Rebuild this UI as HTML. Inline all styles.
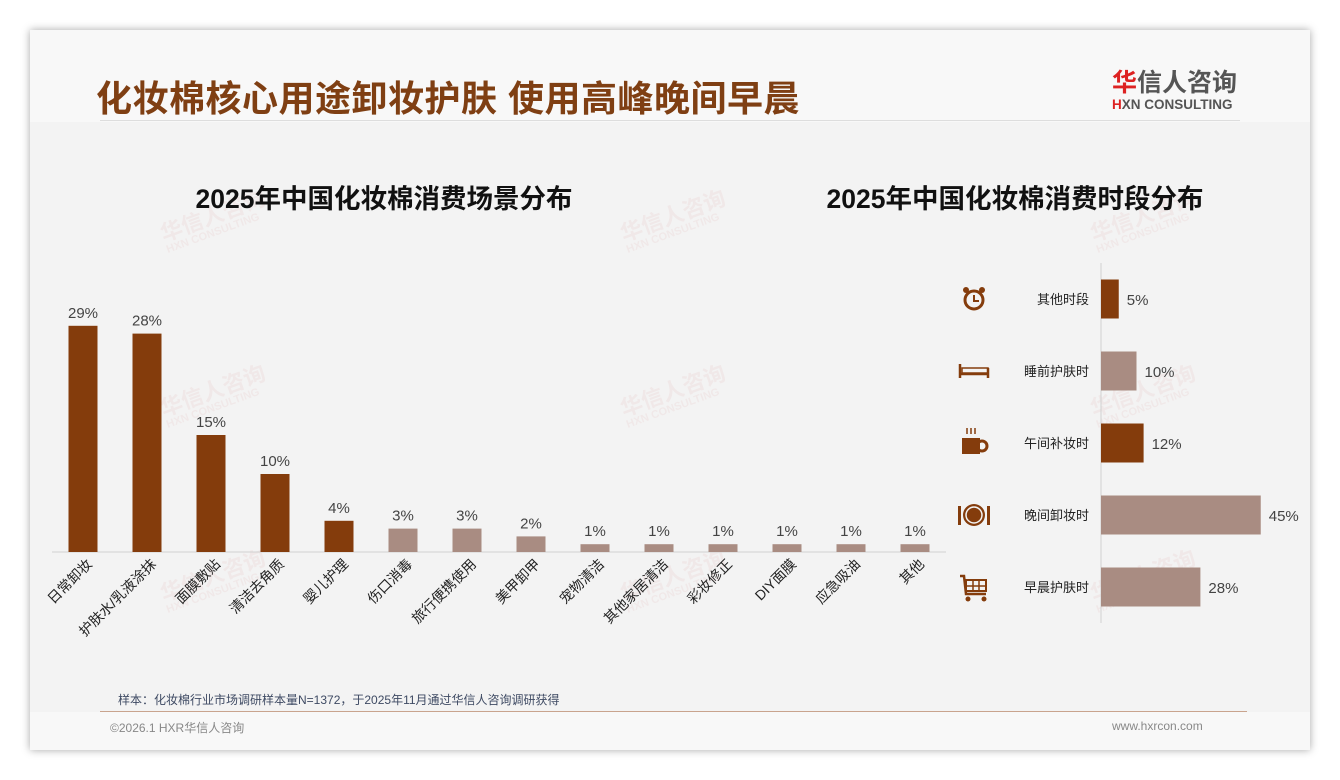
<!DOCTYPE html>
<html><head><meta charset="utf-8"><style>
body{margin:0;width:1340px;height:780px;background:#fff;font-family:"Liberation Sans","Noto Sans CJK SC",sans-serif;overflow:hidden}
#card{position:absolute;left:30px;top:30px;width:1280px;height:720px;background:#f3f3f3;box-shadow:0 0 8px rgba(0,0,0,.35)}
.abs{position:absolute}
.wm{position:absolute;color:rgba(200,60,60,.06);font-weight:bold;font-size:22px;transform:rotate(-20deg);line-height:1}
.wm small{display:block;font-size:11px}
</style></head><body>
<div id="card">
 <div class="abs" style="left:0;top:0;width:1280px;height:92px;background:#f8f8f8"></div>
 <div class="abs" style="left:66px;top:40px;font-size:36px;font-weight:bold;color:#7f3f13;letter-spacing:0.5px">化妆棉核心用途卸妆护肤 使用高峰晚间早晨</div>
 <div class="abs" style="left:1082px;top:33px;text-align:left">
  <div style="font-size:25px;font-weight:bold;color:#555"><span style="color:#d22">华</span>信人咨询</div>
  <div style="font-size:13.5px;font-weight:bold;color:#555;margin-top:-2px"><span style="color:#d22">H</span>XN CONSULTING</div>
 </div>
 <div class="abs" style="left:70px;top:90px;width:1140px;height:1px;background:#ddd"></div>
 <div class="abs" style="left:0;top:682px;width:1280px;height:38px;background:#f8f8f8"></div>
 <div class="abs" style="left:70px;top:681px;width:1147px;height:1px;background:#c9a48e"></div>
 <div class="abs" style="left:88px;top:661px;font-size:12px;color:#3e4a63">样本：化妆棉行业市场调研样本量N=1372，于2025年11月通过华信人咨询调研获得</div>
 <div class="abs" style="left:80px;top:689px;font-size:12px;color:#888">©2026.1 HXR华信人咨询</div>
 <div class="abs" style="left:1082px;top:689px;font-size:12px;color:#888">www.hxrcon.com</div>
</div>
<div id="wms"></div>
<div class="abs" style="left:84px;top:177px;width:600px;text-align:center;font-size:26.5px;font-weight:bold;color:#111">2025年中国化妆棉消费场景分布</div>
<div class="abs" style="left:715px;top:177px;width:600px;text-align:center;font-size:26.5px;font-weight:bold;color:#111">2025年中国化妆棉消费时段分布</div>
<svg class="abs" style="left:0;top:0" width="1340" height="780" id="chart"></svg>
<script>
const scenes=["日常卸妆","护肤水/乳液涂抹","面膜敷贴","清洁去角质","婴儿护理","伤口消毒","旅行便携使用","美甲卸甲","宠物清洁","其他家居清洁","彩妆修正","DIY面膜","应急吸油","其他"];
const sceneVals=[29,28,15,10,4,3,3,2,1,1,1,1,1,1];
const sceneDark=[1,1,1,1,1,0,0,0,0,0,0,0,0,0];
const periods=["其他时段","睡前护肤时","午间补妆时","晚间卸妆时","早晨护肤时"];
const periodVals=[5,10,12,45,28];
const periodDark=[1,0,1,0,0];
const DARK="#843c0c",LIGHT="#a98c82";
const svg=document.getElementById('chart');const NS="http://www.w3.org/2000/svg";
function mk(t,a,p){const e=document.createElementNS(NS,t);for(const k in a)e.setAttribute(k,a[k]);(p||svg).appendChild(e);return e;}
const wmPos=[[160,225],[620,225],[1090,225],[160,400],[620,400],[1090,400],[160,585],[620,585],[1090,585]];
const wd=document.getElementById('wms');
wmPos.forEach(p=>{const d=document.createElement('div');d.className='wm';d.style.left=p[0]+'px';d.style.top=(p[1]-20)+'px';d.innerHTML='华信人咨询<small>HXN CONSULTING</small>';


wd.appendChild(d);});
const baseY=552,x0=51,step=64,bw=29,pxPer=7.8;
const xS=i=>x0+step*i+step/2, yS=v=>baseY-v*pxPer;
const ax=mk('line',{x1:52,x2:946,y1:baseY,y2:baseY,stroke:"#d0d0d0"});


sceneVals.forEach((v,i)=>{
 const r=mk('rect',{x:xS(i)-bw/2,y:yS(v),width:bw,height:v*pxPer,fill:sceneDark[i]?DARK:LIGHT});
 
 
 const t=mk('text',{x:xS(i),y:yS(v)-8,"text-anchor":"middle","font-size":15,fill:"#444"});t.textContent=v+'%';
 
 
 const lx=xS(i)+10,ly=baseY+13;
 const l=mk('text',{x:lx,y:ly,"text-anchor":"end","font-size":14,fill:"#222",transform:`rotate(-45 ${lx} ${ly})`});l.textContent=scenes[i];
 
 
});
const ax2=1101,rowTop=263,rowH=72,bh=39,pp=3.55;
const ya=mk('line',{x1:ax2,x2:ax2,y1:rowTop,y2:rowTop+rowH*5,stroke:"#d0d0d0"});


const icons=[
 c=>`<circle cx="${c[0]}" cy="${c[1]+1}" r="9" fill="none" stroke="${DARK}" stroke-width="3"/><path d="M${c[0]} ${c[1]-4}V${c[1]+2}H${c[0]+5}" stroke="${DARK}" stroke-width="2" fill="none"/><circle cx="${c[0]-8}" cy="${c[1]-9}" r="3" fill="${DARK}"/><circle cx="${c[0]+8}" cy="${c[1]-9}" r="3" fill="${DARK}"/>`,
 c=>`<path d="M${c[0]-14} ${c[1]-7}V${c[1]+7}M${c[0]+14} ${c[1]-3}V${c[1]+7}M${c[0]-14} ${c[1]+3}H${c[0]+14}" stroke="${DARK}" stroke-width="2.5" fill="none"/><rect x="${c[0]-12}" y="${c[1]-3}" width="26" height="5" fill="none" stroke="${DARK}" stroke-width="1.5"/>`,
 c=>`<rect x="${c[0]-12}" y="${c[1]-5}" width="18" height="16" fill="${DARK}"/><circle cx="${c[0]+8}" cy="${c[1]+3}" r="5" fill="none" stroke="${DARK}" stroke-width="3"/><path d="M${c[0]-7} ${c[1]-15}v6M${c[0]-3} ${c[1]-15}v6M${c[0]+1} ${c[1]-15}v6" stroke="${DARK}" stroke-width="1.5"/>`,
 c=>`<circle cx="${c[0]}" cy="${c[1]}" r="11" fill="${DARK}"/><circle cx="${c[0]}" cy="${c[1]}" r="8" fill="none" stroke="#f3f3f3" stroke-width="1.5"/><rect x="${c[0]-16}" y="${c[1]-9}" width="3" height="19" fill="${DARK}"/><rect x="${c[0]+13}" y="${c[1]-9}" width="3" height="19" fill="${DARK}"/>`,
 c=>`<path d="M${c[0]-14} ${c[1]-11}H${c[0]-10}L${c[0]-8} ${c[1]+7}H${c[0]+12}" stroke="${DARK}" stroke-width="2.5" fill="none"/><rect x="${c[0]-8}" y="${c[1]-7}" width="20" height="11" fill="none" stroke="${DARK}" stroke-width="2"/><path d="M${c[0]-1} ${c[1]-7}v11M${c[0]+5} ${c[1]-7}v11M${c[0]-8} ${c[1]-1}h20" stroke="${DARK}" stroke-width="1.5"/><circle cx="${c[0]-6}" cy="${c[1]+12}" r="2.5" fill="${DARK}"/><circle cx="${c[0]+10}" cy="${c[1]+12}" r="2.5" fill="${DARK}"/>`
];
periodVals.forEach((v,i)=>{
 const cy=rowTop+rowH*i+rowH/2;
 const r=mk('rect',{x:ax2,y:cy-bh/2,width:v*pp,height:bh,fill:periodDark[i]?DARK:LIGHT});
 
 
 const t=mk('text',{x:ax2+v*pp+8,y:cy+6,"font-size":15,fill:"#444"});t.textContent=v+'%';
 
 
 const l=mk('text',{x:1089,y:cy+5,"text-anchor":"end","font-size":13,fill:"#222"});l.textContent=periods[i];
 
 
 const g=mk('g',{});g.innerHTML=icons[i]([974,cy]);
 
 
});
</script>
</body></html>
